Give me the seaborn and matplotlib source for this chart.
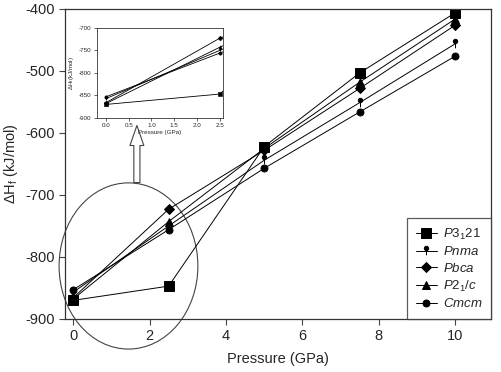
import matplotlib
matplotlib.use("Agg")
import matplotlib.pyplot as plt
from matplotlib.path import Path
from matplotlib.transforms import Affine2D
from matplotlib.patches import Ellipse, FancyArrowPatch
import seaborn as sns

pressure = [0, 2.5, 5, 7.5, 10]
p3121 = [-870, -847, -622, -503, -406]
pnma = [-857, -750, -644, -551, -456]
pbca = [-866, -723, -628, -528, -426]
p21c = [-868, -743, -625, -518, -416]
cmcm = [-853, -756, -657, -566, -476]

labels = ["$P3_{1}21$", "$Pnma$", "$Pbca$", "$P2_{1}/c$", "$Cmcm$"]
series = [p3121, pnma, pbca, p21c, cmcm]

sns.set_style("ticks")
plt.rcParams["font.family"] = ["Liberation Sans", "DejaVu Sans"]
plt.rcParams["axes.unicode_minus"] = False
plt.rcParams["mathtext.fontset"] = "custom"
plt.rcParams["mathtext.rm"] = "Liberation Sans"
plt.rcParams["mathtext.it"] = "Liberation Sans:italic"
plt.rcParams["mathtext.default"] = "it"

# dot-on-a-stem marker used for Pnma
circ = Path.unit_circle().transformed(Affine2D().scale(0.4).translate(0, 0.55))
stem = Path([(0, 0.55), (0, -0.7)], [Path.MOVETO, Path.LINETO])
pnma_marker = Path.make_compound_path(circ, stem)

styles = [("s", 6.5), (pnma_marker, 7.5), ("D", 5), ("^", 6), ("o", 5)]

fig = plt.figure(figsize=(5.02, 3.72), dpi=100)
ax = fig.add_axes([0.1295, 0.1425, 0.8485, 0.8335])
for i in range(len(series)):
    sns.lineplot(x=pressure, y=series[i], ax=ax, color="black", linewidth=0.7,
                 marker=styles[i][0], markersize=styles[i][1], markeredgewidth=0.7,
                 markeredgecolor="black", markerfacecolor="black", label=labels[i])
ax.set_xlim(-0.21, 10.93)
ax.set_ylim(-900, -400)
ax.set_xticks([0, 2, 4, 6, 8, 10])
ax.set_yticks([-900, -800, -700, -600, -500, -400])
ax.tick_params(axis="both", direction="out", length=4, width=0.8, labelsize=10.5, color="#444444")
for sp in ax.spines.values():
    sp.set_linewidth(0.9)
    sp.set_color("#333333")
ax.set_xlabel("Pressure (GPa)", fontsize=10.5, labelpad=6)
ax.set_ylabel(r"$\Delta\mathrm{H}_{\mathrm{f}}$ (kJ/mol)", fontsize=10.5, labelpad=4)
leg = ax.legend(loc="lower right", borderaxespad=0, fontsize=9.5, frameon=True,
                fancybox=False, edgecolor="#333333", handlelength=1.6,
                labelspacing=0.28, borderpad=0.65, handletextpad=0.45)
leg.get_frame().set_linewidth(0.9)

# ellipse and arrow pointing to the inset
ax.add_patch(Ellipse((1.45, -814.5), 3.63, 268, fill=False, edgecolor="#444444",
                     linewidth=0.8, clip_on=False))
ax.add_patch(FancyArrowPatch((1.67, -680), (1.67, -588), clip_on=False,
                             arrowstyle="simple,head_length=0.72,head_width=0.5,tail_width=0.22",
                             mutation_scale=20, facecolor="white", edgecolor="#444444",
                             linewidth=0.8, shrinkA=0, shrinkB=0))

# inset
ins = fig.add_axes([0.193, 0.683, 0.251, 0.242])
for i in range(len(series)):
    sns.lineplot(x=pressure, y=series[i], ax=ins, color="black", linewidth=0.6,
                 marker=styles[i][0], markersize=2.4, markeredgewidth=0.4,
                 markeredgecolor="black", markerfacecolor="black", legend=False)
ins.set_xlim(-0.2, 2.57)
ins.set_ylim(-900, -700)
ins.set_xticks([0.0, 0.5, 1.0, 1.5, 2.0, 2.5])
ins.set_xticklabels(["0.0", "0.5", "1.0", "1.5", "2.0", "2.5"])
ins.set_yticks([-900, -850, -800, -750, -700])
ins.tick_params(axis="both", direction="out", length=2, width=0.5, labelsize=4.5, pad=2)
for sp in ins.spines.values():
    sp.set_linewidth(0.6)
    sp.set_color("#333333")
ins.set_xlabel("Pressure (GPa)", fontsize=4.5, labelpad=1)
ins.set_ylabel(r"$\Delta\mathrm{H}_{\mathrm{f}}$(kJ/mol)", fontsize=4.5, labelpad=2)

fig.savefig("out.png", dpi=100)
